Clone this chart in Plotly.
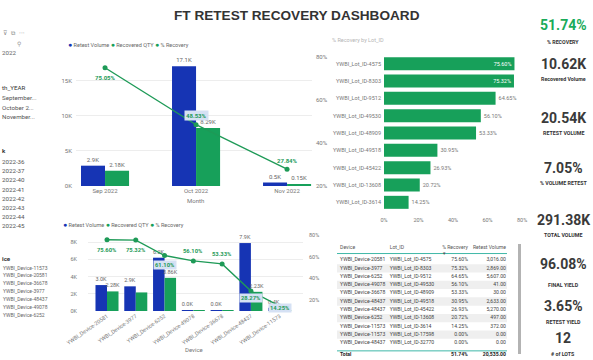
import plotly.graph_objects as go

W, H = 593, 360
def px(x): return x / W
def py(y): return 1 - y / H

BLUE = '#1634b4'
GREEN = '#17a05a'
LINEG = '#1e9a57'
GRAY = '#777777'
FONT = 'Roboto'

# ---------------- data ----------------
months = ['Sep 2022', 'Oct 2022', 'Nov 2022']
month_retest = [2.9, 17.1, 0.5]          # thousands
month_recovered = [2.18, 8.29, 0.15]     # thousands
month_pct = [75.05, 48.53, 27.84]

lots = ['YWBI_Lot_ID-4575', 'YWBI_Lot_ID-8303', 'YWBI_Lot_ID-9512', 'YWBI_Lot_ID-49530',
        'YWBI_Lot_ID-48909', 'YWBI_Lot_ID-49518', 'YWBI_Lot_ID-45422', 'YWBI_Lot_ID-13608',
        'YWBI_Lot_ID-3614']
lot_pct = [75.60, 75.32, 64.65, 56.10, 53.33, 30.95, 26.93, 20.72, 14.25]

devices = ['YWBI_Device-20581', 'YWBI_Device-3977', 'YWBI_Device-6252', 'YWBI_Device-49078',
           'YWBI_Device-36678', 'YWBI_Device-48437', 'YWBI_Device-11573']
dev_retest = [3.016, 2.869, 6.2, 0.041, 0.030, 7.903, 0.372]
dev_recovered = [2.28, 2.161, 3.86, 0.023, 0.016, 2.23, 0.053]
dev_pct = [75.60, 75.32, 61.10, 56.10, 53.33, 28.27, 14.25]
dev_retest_lbl = ['3.0K', '2.9K', '6.2K', '0.0K', '0.0K', '7.9K', '0.4K']
dev_recov_lbl = ['2.28K', '', '3.86K', '', '', '2.23K', '']

tbl_device = ['YWBI_Device-20581', 'YWBI_Device-3977', 'YWBI_Device-6252', 'YWBI_Device-49078',
              'YWBI_Device-36678', 'YWBI_Device-48437', 'YWBI_Device-48437', 'YWBI_Device-6252',
              'YWBI_Device-11573', 'YWBI_Device-11573', 'YWBI_Device-48437']
tbl_lot = ['YWBI_Lot_ID-4575', 'YWBI_Lot_ID-8303', 'YWBI_Lot_ID-9512', 'YWBI_Lot_ID-49530',
           'YWBI_Lot_ID-48909', 'YWBI_Lot_ID-49518', 'YWBI_Lot_ID-45422', 'YWBI_Lot_ID-13608',
           'YWBI_Lot_ID-3614', 'YWBI_Lot_ID-17598', 'YWBI_Lot_ID-32770']
tbl_pct = ['75.60%', '75.32%', '64.65%', '56.10%', '53.33%', '30.95%', '26.93%', '20.72%',
           '14.25%', '0.00%', '0.00%']
tbl_vol = ['3,016.00', '2,869.00', '5,607.00', '41.00', '30.00', '2,633.00', '5,270.00',
           '497.00', '372.00', '0.00', '0.00']
tbl_header = ['Device', 'Lot_ID', '% Recovery', 'Retest Volume']
tbl_total = ['Total', '', '51.74%', '20,535.00']

kpi_values = ['51.74%', '10.62K', '20.54K', '7.05%', '291.38K', '96.08%', '3.65%', '12']
kpi_labels = ['% RECOVERY', 'Recovered Volume', 'RETEST VOLUME', '% VOLUME RETEST',
              'TOTAL VOLUME', 'FINAL YIELD', 'RETEST YIELD', '# of LOTS']

slicer_month = ['September...', 'October 2...', 'November...']
slicer_week = ['2022-36', '2022-37', '2022-40', '2022-41', '2022-42', '2022-43', '2022-44', '2022-45']
slicer_device = ['YWBI_Device-11573', 'YWBI_Device-20581', 'YWBI_Device-36678', 'YWBI_Device-3977',
                 'YWBI_Device-48437', 'YWBI_Device-49078', 'YWBI_Device-6252']

pct_ticks = [20, 40, 60, 80]
pct_ticks_h = [0, 20, 40, 60, 80]

fig = go.Figure()

# ---------------- chart 1 : by month ----------------
fig.add_trace(go.Bar(x=months, y=month_retest, xaxis='x', yaxis='y', width=0.264, offset=-0.264,
                     marker=dict(color=BLUE, line=dict(width=0)), texttemplate='%{y:.1f}K',
                     textposition='outside', constraintext='none', cliponaxis=False,
                     textfont=dict(size=6, color='#666', family=FONT), showlegend=False, hoverinfo='skip'))
fig.add_trace(go.Bar(x=months, y=month_recovered, xaxis='x', yaxis='y', width=0.264, offset=0,
                     marker=dict(color=GREEN, line=dict(width=0)), texttemplate='%{y:.2f}K',
                     textposition='outside', constraintext='none', cliponaxis=False,
                     textfont=dict(size=6, color='#666', family=FONT), showlegend=False, hoverinfo='skip'))
fig.add_trace(go.Scatter(x=months, y=month_pct, xaxis='x', yaxis='y2', mode='lines+markers',
                         line=dict(color=LINEG, width=1.4), marker=dict(size=5, color=LINEG),
                         cliponaxis=False, showlegend=False, hoverinfo='skip'))

# ---------------- chart 2 : % recovery by lot ----------------
fig.add_trace(go.Bar(x=lot_pct, y=lots, orientation='h', xaxis='x3', yaxis='y3', width=0.75,
                     marker=dict(color=GREEN, line=dict(width=0)),
                     text=[f'{v:.2f}%' for v in lot_pct],
                     textposition=['inside', 'inside'] + ['outside'] * (len(lots) - 2),
                     insidetextanchor='end', constraintext='none', cliponaxis=False,
                     insidetextfont=dict(size=5.5, color='white', family=FONT),
                     outsidetextfont=dict(size=5.5, color='#777', family=FONT),
                     showlegend=False, hoverinfo='skip'))

# ---------------- chart 3 : by device ----------------
fig.add_trace(go.Bar(x=devices, y=dev_retest, xaxis='x4', yaxis='y4', width=0.40, offset=-0.40,
                     marker=dict(color=BLUE, line=dict(width=0)), text=dev_retest_lbl,
                     textposition='outside', constraintext='none', cliponaxis=False,
                     textfont=dict(size=5.5, color='#666', family=FONT), showlegend=False, hoverinfo='skip'))
fig.add_trace(go.Bar(x=devices, y=dev_recovered, xaxis='x4', yaxis='y4', width=0.40, offset=0,
                     marker=dict(color=GREEN, line=dict(width=0)), text=dev_recov_lbl,
                     textposition='outside', constraintext='none', cliponaxis=False,
                     textfont=dict(size=5.5, color='#666', family=FONT), showlegend=False, hoverinfo='skip'))
fig.add_trace(go.Scatter(x=devices, y=dev_pct, xaxis='x4', yaxis='y5', mode='lines+markers',
                         line=dict(color=LINEG, width=1.4), marker=dict(size=5, color=LINEG),
                         cliponaxis=False, showlegend=False, hoverinfo='skip'))

# ---------------- table (text on hidden axes) ----------------
n = len(tbl_device)
rows = list(range(n))
stripe_rows = [r for r in rows if r % 2 == 1]
fig.add_trace(go.Bar(x=[1] * len(stripe_rows), y=stripe_rows, base=0, orientation='h', width=1,
                     xaxis='x6', yaxis='y6', marker=dict(color='#efefef', line=dict(width=0)),
                     showlegend=False, hoverinfo='skip'))
col_x = [0.018, 0.31, 0.77, 0.994]
col_pos = ['middle right', 'middle right', 'middle left', 'middle left']
header_y = -1.45
total_y = 11.45
cols = [tbl_device, tbl_lot, tbl_pct, tbl_vol]
for ci in range(4):
    fig.add_trace(go.Scatter(x=[col_x[ci]] * n, y=rows, xaxis='x6', yaxis='y6', mode='text',
                             text=cols[ci], textposition=col_pos[ci], cliponaxis=False,
                             textfont=dict(size=5.1, color='#444', family=FONT),
                             showlegend=False, hoverinfo='skip'))
    fig.add_trace(go.Scatter(x=[col_x[ci]], y=[header_y], xaxis='x6', yaxis='y6', mode='text',
                             text=[tbl_header[ci]], textposition=col_pos[ci], cliponaxis=False,
                             textfont=dict(size=5.1, color='#555', family=FONT),
                             showlegend=False, hoverinfo='skip'))
    fig.add_trace(go.Scatter(x=[col_x[ci]], y=[total_y], xaxis='x6', yaxis='y6', mode='text',
                             text=[f'<b>{tbl_total[ci]}</b>' if tbl_total[ci] else ''],
                             textposition=col_pos[ci], cliponaxis=False,
                             textfont=dict(size=5.1, color='#222', family=FONT),
                             showlegend=False, hoverinfo='skip'))

tick_font = dict(size=6, color=GRAY, family=FONT)
small_font = dict(size=5.5, color=GRAY, family=FONT)

layout = dict(
    width=W, height=H, margin=dict(l=0, r=0, t=0, b=0, autoexpand=False),
    paper_bgcolor='white', plot_bgcolor='white', barmode='overlay',
    font=dict(family=FONT, color='#555'),
    # chart 1
    xaxis=dict(domain=[px(76), px(312)], anchor='y', type='category', categoryarray=months,
               range=[-0.319, 2.274], showgrid=False, zeroline=False, showline=False,
               tickfont=tick_font, ticks='', automargin=False),
    yaxis=dict(domain=[py(186), py(55)], anchor='x', range=[0, 18.7], tickvals=[0, 5, 10, 15],
               ticktext=['0K', '5K', '10K', '15K'], gridcolor='#ededed', zeroline=False,
               tickfont=tick_font, ticklabelstandoff=3, automargin=False),
    yaxis2=dict(overlaying='y', side='right', anchor='x', range=[20, 81],
                tickvals=pct_ticks, ticktext=[f'{t}%' for t in pct_ticks], showgrid=False,
                zeroline=False, tickfont=tick_font, ticklabelstandoff=3, automargin=False),
    # chart 2
    xaxis3=dict(domain=[px(384), px(530)], anchor='y3', range=[0, 84.6],
                tickvals=pct_ticks_h, ticktext=[f'{t}%' for t in pct_ticks_h], showgrid=False,
                zeroline=False, tickfont=small_font, ticklabelstandoff=4, automargin=False),
    yaxis3=dict(domain=[py(211), py(55)], anchor='x3', type='category', categoryarray=lots,
                range=[8.5, -0.5], showgrid=False, zeroline=False, tickfont=small_font,
                ticklabelstandoff=2, automargin=False),
    # chart 3
    xaxis4=dict(domain=[px(88), px(303)], anchor='y4', type='category', categoryarray=devices,
                range=[-0.66, 6.81], showgrid=False, zeroline=False, tickangle=-35,
                tickfont=small_font, ticks='', automargin=False),
    yaxis4=dict(domain=[py(311), py(232)], anchor='x4', range=[0, 9.19],
                tickvals=[0, 2, 4, 6, 8], ticktext=['0K', '2K', '4K', '6K', '8K'],
                gridcolor='#ededed', zeroline=False, tickfont=small_font, ticklabelstandoff=10,
                automargin=False),
    yaxis5=dict(overlaying='y4', side='right', anchor='x4', range=[9.85, 82.8],
                tickvals=pct_ticks, ticktext=[f'{t}%' for t in pct_ticks], showgrid=False,
                zeroline=False, tickfont=small_font, ticklabelstandoff=5, automargin=False),
    # table
    xaxis6=dict(domain=[px(337), px(507)], anchor='y6', range=[0, 1], visible=False, automargin=False),
    yaxis6=dict(domain=[py(360), py(243)], anchor='x6', range=[12.05, -2.05], visible=False,
                automargin=False),
)
fig.update_layout(**layout)

ann = []
def A(x, y, text, size=6, color='#555', xanchor='center', bold=False, family=FONT, **kw):
    ann.append(dict(x=px(x), y=py(y), xref='paper', yref='paper', text=f'<b>{text}</b>' if bold else text,
                    showarrow=False, xanchor=xanchor, yanchor='middle',
                    font=dict(size=size, color=color, family=family), **kw))

# title
A(297, 16, 'FT RETEST RECOVERY DASHBOARD', size=13.6, color='#333', bold=True, family='Liberation Sans')
A(358, 40, '% Recovery by Lot_ID', size=5.5, color='#b5b5b5')

# legends
leg = (f'<span style="color:{BLUE};font-size:7px">●</span> Retest Volume '
       f'<span style="color:{GREEN};font-size:7px">●</span> Recovered QTY '
       f'<span style="color:{GREEN};font-size:7px">●</span> % Recovery')
A(66, 45, leg, size=5.5, color='#666', xanchor='left')
A(61, 225, leg, size=5.5, color='#666', xanchor='left')

# axis titles
A(196, 200, 'Month', size=6, color=GRAY)
A(194, 349, 'Device', size=6, color=GRAY)

# line labels chart 1
m_shift = [-10, 9, 9]
m_bg = [None, '#d5e1f4', None]
for i, m in enumerate(months):
    ann.append(dict(x=m, y=month_pct[i], xref='x', yref='y2', text=f'<b>{month_pct[i]:.2f}%</b>',
                    showarrow=False, yshift=m_shift[i], font=dict(size=6, color=LINEG, family=FONT),
                    bgcolor=m_bg[i], borderpad=1))
# line labels chart 3
d_shift = [-10, -10, -9, 10, 10, -7, -2]
d_bg = [None, None, '#d5e1f4', None, None, '#d5e1f4', '#d5e1f4']
for i, d in enumerate(devices):
    ann.append(dict(x=d, y=dev_pct[i], xref='x4', yref='y5', text=f'<b>{dev_pct[i]:.2f}%</b>',
                    showarrow=False, yshift=d_shift[i], font=dict(size=5.8, color=LINEG, family=FONT),
                    bgcolor=d_bg[i], borderpad=1))

# KPI cards
kpi_vy = [25, 64, 118, 168, 220, 264, 306, 338]
kpi_ly = [42, 79, 133, 183, 235, 285, 322, 354]
for i in range(len(kpi_values)):
    A(563, kpi_vy[i], kpi_values[i], size=14, color=('#1aab5a' if i == 0 else '#3a3a3a'),
      bold=True)
    A(563, kpi_ly[i], kpi_labels[i], size=5.3, color='#333', bold=True)

# slicer panel
A(1, 32, '⊽  ⧉  ···', size=6, color='#888', xanchor='left', family='DejaVu Sans')
A(19, 43, '⚲', size=6, color='#999', family='DejaVu Sans')
A(0, 53, '2022', size=6.2, color='#666', xanchor='left')
A(0, 88, 'th_YEAR', size=6.2, color='#333', xanchor='left')
for i, s in enumerate(slicer_month):
    A(0, 98 + i * 9.6, s, size=6.2, color='#555', xanchor='left')
A(0, 151, 'k', size=6.2, color='#333', xanchor='left', bold=True)
for i, s in enumerate(slicer_week):
    A(0, 162 + i * 9.2, s, size=6.2, color='#555', xanchor='left')
A(0, 259, 'ice', size=6.2, color='#333', xanchor='left', bold=True)
for i, s in enumerate(slicer_device):
    A(1, 267.5 + i * 7.9, s, size=5, color='#666', xanchor='left')

# table sort arrow
A(444, 253, '▾', size=5, color='#555', family='DejaVu Sans')

fig.update_layout(annotations=ann)

shapes = [
    dict(type='line', xref='x6', yref='y6', x0=0, x1=1, y0=-0.78, y1=-0.78,
         line=dict(color='#3fb8a8', width=1)),
    dict(type='line', xref='x6', yref='y6', x0=0, x1=1, y0=10.95, y1=10.95,
         line=dict(color='#3fb8a8', width=1)),
    dict(type='rect', xref='paper', yref='paper', x0=px(518), x1=px(521), y0=py(354), y1=py(244),
         fillcolor='#b3b3b3', line=dict(width=0)),
]
fig.update_layout(shapes=shapes)

fig.write_html('out.html', config={'displayModeBar': False},
               post_script="document.body.style.margin='0px';")
